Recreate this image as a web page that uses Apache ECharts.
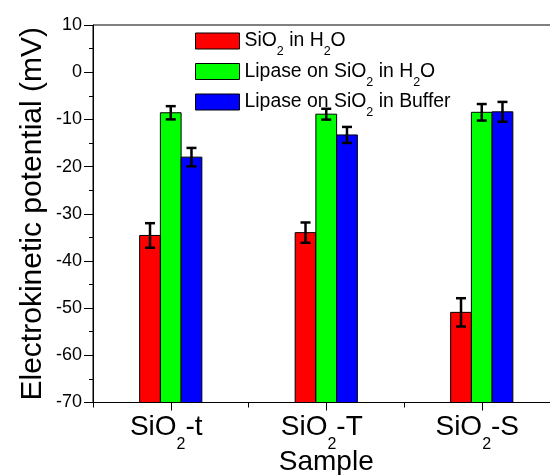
<!DOCTYPE html>
<html>
<head>
<meta charset="utf-8">
<script src="https://cdn.jsdelivr.net/npm/echarts@6/dist/echarts.min.js"></script>
<style>html,body{margin:0;padding:0;background:#fff;}#c{width:550px;height:475px;}</style>
</head>
<body>
<div id="c"></div>
<script>
// ---- data ----
const categories = ['SiO2-t', 'SiO2-T', 'SiO2-S'];
const seriesNames = ['SiO2 in H2O', 'Lipase on SiO2 in H2O', 'Lipase on SiO2 in Buffer'];
const sio2InH2O = [-34.6, -34.0, -50.9];
const sio2InH2OErr = [2.6, 2.15, 3.0];
const lipaseInH2O = [-8.6, -8.9, -8.5];
const lipaseInH2OErr = [1.4, 1.15, 1.75];
const lipaseInBuffer = [-18.0, -13.3, -8.4];
const lipaseInBufferErr = [1.95, 1.7, 2.1];
const yTicks = { min: -70, max: 10, interval: 10 };

const FONT = "'Liberation Sans', Arial, sans-serif";
const colors = ['#ff0000', '#00ff00', '#0000ff'];

// "SiO2" -> rich text with subscript digits
function toRich(str) {
  let out = '';
  const re = /([A-Za-z])(\d+)/g;
  let last = 0, m;
  while ((m = re.exec(str)) !== null) {
    const end = m.index + 1;
    if (end > last) out += '{m|' + str.slice(last, end) + '}';
    out += '{s|' + m[2] + '}';
    last = end + m[2].length;
  }
  if (last < str.length) out += '{m|' + str.slice(last) + '}';
  return out;
}

const yMin = yTicks.min;
function makeRender(si) {
  return function (params, api) {
    const ci = api.value(0), v = api.value(1), e = api.value(2);
    const band = api.size([1, 0])[0];
    const bw = band * 0.4 / 3;
    const c = api.coord([ci, v]);
    const x = c[0] + (si - 1) * bw - bw / 2;
    const yBase = api.coord([ci, yMin])[1];
    const eTop = api.coord([ci, v + e])[1];
    const eBot = api.coord([ci, v - e])[1];
    const cx = x + bw / 2;
    const cap = 5;
    return {
      type: 'group',
      children: [
        { type: 'rect', shape: { x: x, y: c[1], width: bw, height: yBase - c[1] },
          style: { fill: colors[si], stroke: '#000', lineWidth: 1 } },
        { type: 'line', shape: { x1: cx, y1: eTop, x2: cx, y2: eBot }, style: { stroke: '#000', lineWidth: 2.5 } },
        { type: 'line', shape: { x1: cx - cap, y1: eTop, x2: cx + cap, y2: eTop }, style: { stroke: '#000', lineWidth: 2.5 } },
        { type: 'line', shape: { x1: cx - cap, y1: eBot, x2: cx + cap, y2: eBot }, style: { stroke: '#000', lineWidth: 2.5 } }
      ]
    };
  };
}

const valueSets = [sio2InH2O, lipaseInH2O, lipaseInBuffer];
const errSets = [sio2InH2OErr, lipaseInH2OErr, lipaseInBufferErr];

const series = seriesNames.map(function (name, si) {
  return {
    type: 'custom',
    name: name,
    xAxisIndex: 0,
    yAxisIndex: 0,
    itemStyle: { color: colors[si] },
    renderItem: makeRender(si),
    encode: { x: 0, y: 1 },
    data: categories.map(function (c, i) { return [i, valueSets[si][i], errSets[si][i]]; })
  };
});

const chart = echarts.init(document.getElementById('c'), null, { renderer: 'canvas' });
chart.setOption({
  animation: false,
  backgroundColor: '#fff',
  textStyle: { fontFamily: FONT, color: '#000' },
  grid: {
    left: 93, top: 25, width: 466.5, height: 377.5,
    containLabel: false, outerBoundsMode: 'none',
    show: true, borderColor: '#000', borderWidth: 1, backgroundColor: 'transparent'
  },
  legend: {
    orient: 'vertical', left: 195, top: 29, padding: 0,
    itemWidth: 44, itemHeight: 16, itemGap: 1,
    icon: 'rect',
    itemStyle: { borderColor: '#000', borderWidth: 1 },
    data: seriesNames,
    formatter: function (name) { return toRich(name); },
    textStyle: {
      fontFamily: FONT, color: '#000',
      rich: {
        m: { fontSize: 19.4, fontFamily: FONT, color: '#000', lineHeight: 24, height: 24, verticalAlign: 'middle' },
        s: { fontSize: 12.5, fontFamily: FONT, color: '#000', lineHeight: 2, height: 2, verticalAlign: 'bottom' }
      }
    }
  },
  xAxis: [
    {
      type: 'category', data: categories, position: 'bottom',
      name: 'Sample', nameLocation: 'middle', nameGap: 46, nameMoveOverlap: false,
      nameTextStyle: { fontSize: 28, fontFamily: FONT, color: '#000' },
      axisLine: { show: true, onZero: false, lineStyle: { color: '#000', width: 1 } },
      axisTick: { show: true, alignWithLabel: true, length: 8, lineStyle: { color: '#000', width: 1 } },
      axisLabel: {
        margin: 7, color: '#000', padding: [0, 9, 0, 0],
        formatter: function (v) { return toRich(v); },
        rich: {
          m: { fontSize: 28, fontFamily: FONT, color: '#000', lineHeight: 36, height: 36, verticalAlign: 'middle' },
          s: { fontSize: 16, fontFamily: FONT, color: '#000', lineHeight: 2, height: 2, verticalAlign: 'bottom' }
        }
      },
      splitLine: { show: false }
    },
    {
      type: 'category', data: categories, position: 'bottom',
      axisLine: { show: false, onZero: false },
      axisTick: { show: true, alignWithLabel: false, length: 5, lineStyle: { color: '#000', width: 1 } },
      axisLabel: { show: false },
      splitLine: { show: false }
    }
  ],
  yAxis: {
    type: 'value', min: yTicks.min, max: yTicks.max, interval: yTicks.interval,
    name: 'Electrokinetic potential (mV)', nameLocation: 'middle', nameGap: 45, nameMoveOverlap: false,
    nameTextStyle: { fontSize: 30, fontFamily: FONT, color: '#000' },
    axisLine: { show: true, lineStyle: { color: '#000', width: 1 } },
    axisTick: { show: true, length: 9, lineStyle: { color: '#000', width: 1 } },
    minorTick: { show: true, splitNumber: 2, length: 4, lineStyle: { color: '#000', width: 1 } },
    axisLabel: { fontSize: 18, fontFamily: FONT, color: '#000', margin: 11 },
    splitLine: { show: false },
    minorSplitLine: { show: false }
  },
  series: series
});
</script>
</body>
</html>
